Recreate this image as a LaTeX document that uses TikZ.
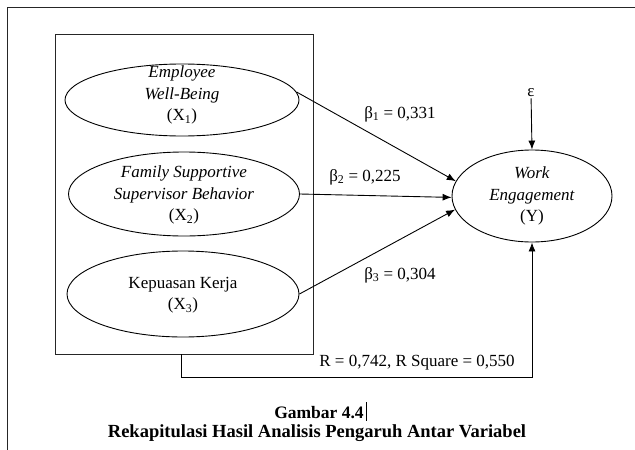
\documentclass[tikz,border=0pt]{standalone}
\usepackage{fontspec}
\setmainfont{Liberation Serif}
\usetikzlibrary{shapes.geometric,arrows.meta}
\begin{document}
\begin{tikzpicture}[x=1pt,y=-1pt,
  txtfont/.style={font=\fontsize{17}{21.5}\selectfont},
  every node/.style={txtfont},
  var/.style={draw, ellipse, line width=0.9pt, inner sep=0pt},
  vtext/.style={txtfont, align=center, inner sep=0pt},
  lbl/.style={txtfont, inner sep=1pt},
  conn/.style={line width=0.9pt, -{Latex[length=9pt,width=7pt]}},
  frameline/.style={line width=0.9pt, draw=black!85},
  capfont/.style={font=\bfseries\fontsize{17.5}{20}\selectfont, inner sep=0pt}]
\useasboundingbox (0,0) rectangle (635,450);
% outer page frame
\draw[frameline] (7,450) -- (7,7) -- (635,7);
% inner box
\node[draw, frameline, minimum width=258pt, minimum height=320pt, inner sep=0pt] (box) at (184,194) {};
% exogenous variables
\node[var, minimum width=234pt, minimum height=72pt] (e1) at (182,100) {};
\node[vtext] (t1) at (182,95) {\textit{Employee}\\\textit{Well-Being}\\(X\textsubscript{1})};
\node[var, minimum width=231pt, minimum height=84pt] (e2) at (184,194) {};
\node[vtext] (t2) at (184,195) {\textit{Family Supportive}\\\textit{Supervisor Behavior}\\(X\textsubscript{2})};
\node[var, minimum width=232pt, minimum height=86pt] (e3) at (183,294) {};
\node[vtext] (t3) at (183,295) {Kepuasan Kerja\\(X\textsubscript{3})};
% endogenous variable
\node[var, minimum width=160pt, minimum height=92pt] (y) at (532,196) {};
\node[vtext] (ty) at (532,196) {\textit{Work}\\\textit{Engagement}\\(Y)};
% error term
\node[lbl] (eps) at (531,93) {ε};
\draw[conn] (eps) -- (y.north);
% paths
\draw[conn] (e1.4) -- (y.169);
\draw[conn] (e2.east) -- (y.181);
\draw[conn] (e3.east) -- (y.190);
\node[lbl] (b1) at (400,114) {β\textsubscript{1} = 0,331};
\node[lbl] (b2) at (365,177) {β\textsubscript{2} = 0,225};
\node[lbl] (b3) at (400,275) {β\textsubscript{3} = 0,304};
% simultaneous effect
\coordinate (bstart) at (181,354);
\draw[conn] (bstart) -- (181,377) -| (y.south);
\node[lbl] (r) at (417,363) {R = 0,742, R Square = 0,550};
% caption
\node[capfont] (cap1) at (319,413) {Gambar 4.4};
\draw[line width=0.6pt] (366,402) -- (366,421);
\node[capfont, font=\bfseries\fontsize{18.5}{20}\selectfont] (cap2) at (317,433) {Rekapitulasi Hasil Analisis Pengaruh Antar Variabel};
\end{tikzpicture}
\end{document}
